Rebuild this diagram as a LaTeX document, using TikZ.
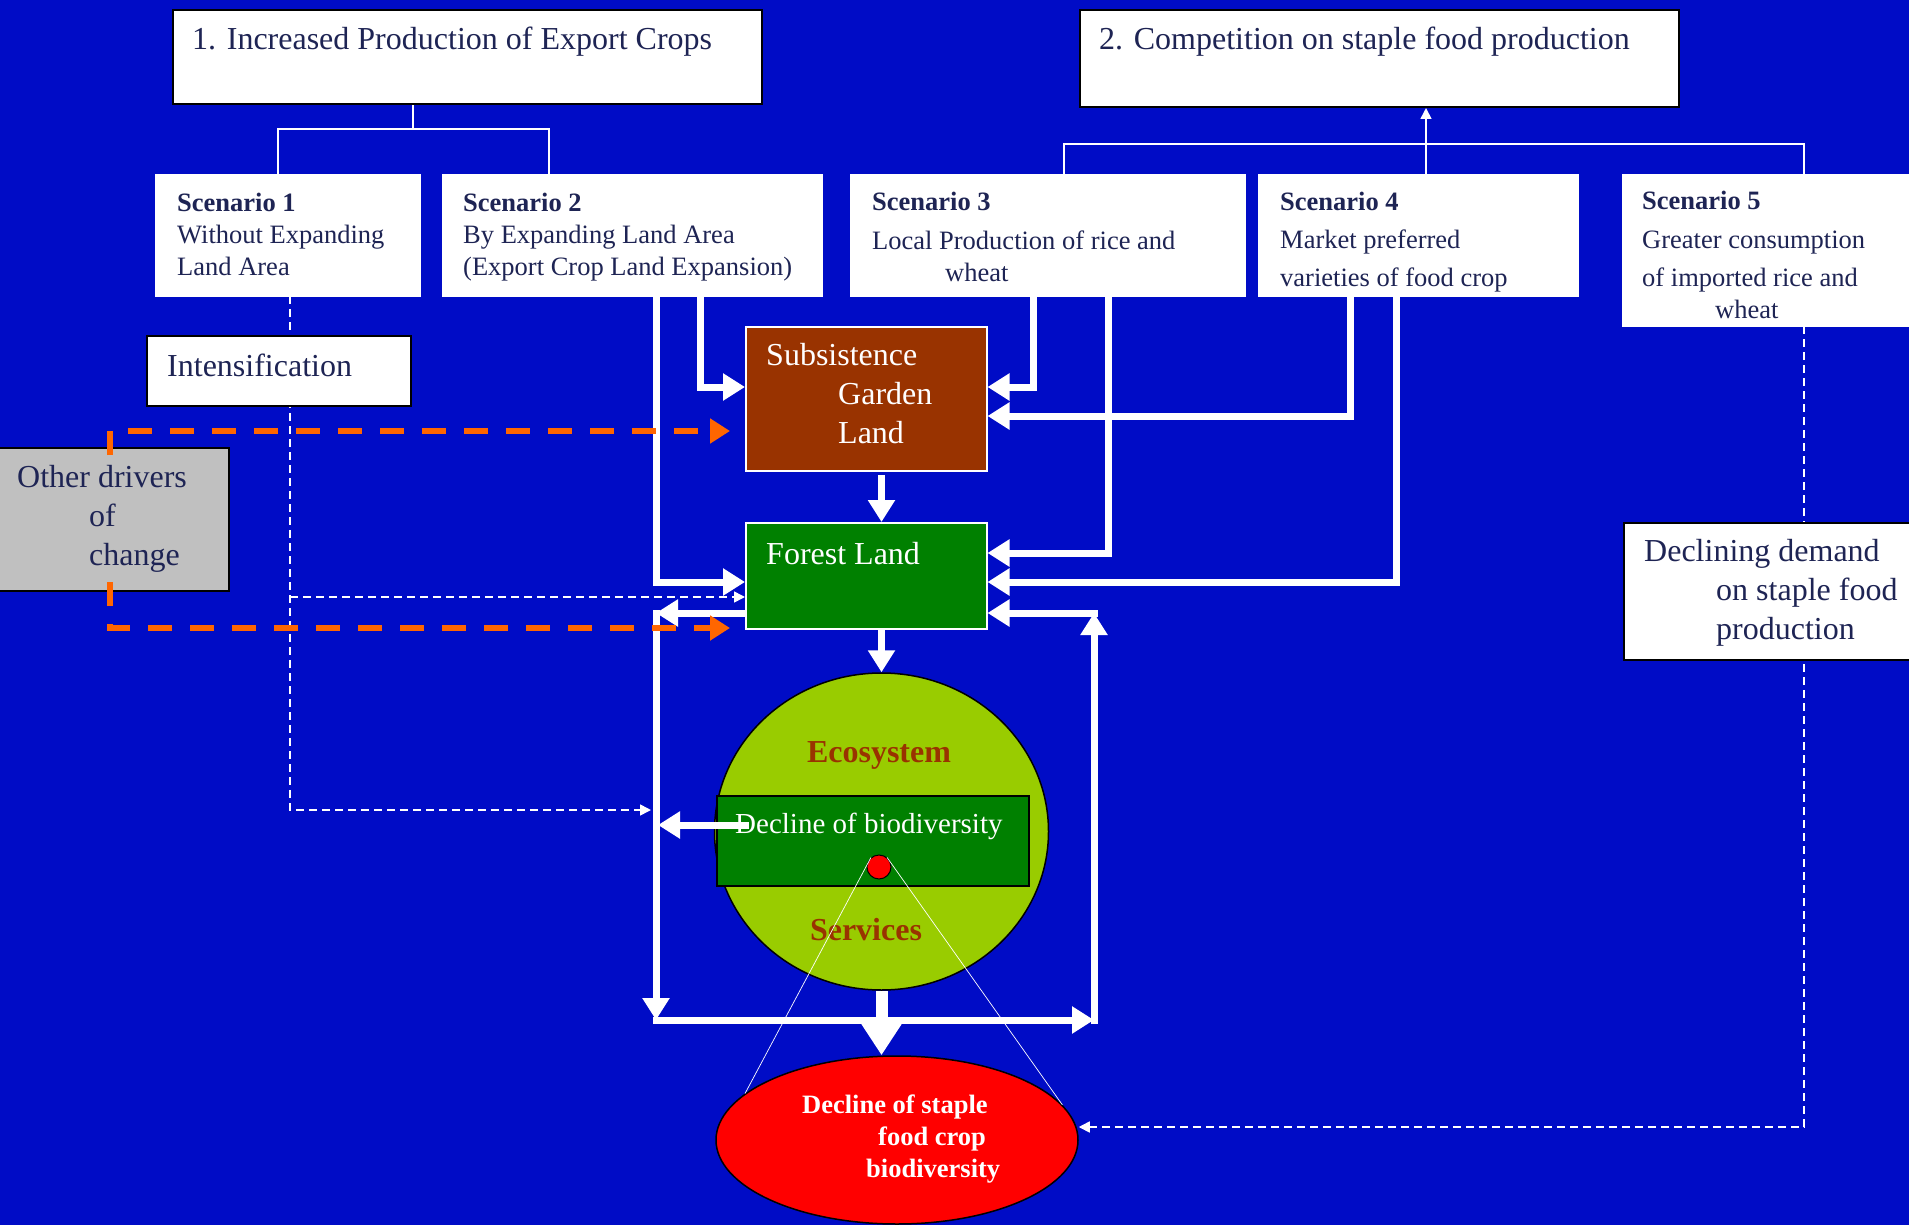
\documentclass[tikz,border=0pt]{standalone}
\usepackage{fontspec}
\setmainfont{Liberation Serif}
\usetikzlibrary{arrows.meta,shapes.geometric,positioning}

\definecolor{slideblue}{RGB}{0,12,198}
\definecolor{inkblue}{RGB}{30,36,84}
\definecolor{gardenbrown}{RGB}{153,51,0}
\definecolor{forestgreen}{RGB}{0,128,0}
\definecolor{ecolime}{RGB}{153,204,0}
\definecolor{drivergray}{RGB}{192,192,192}
\definecolor{driverorange}{RGB}{255,102,0}

\newcommand{\bigsize}{\fontsize{32}{39}\selectfont}
\newcommand{\scensize}{\fontsize{26.5}{32}\selectfont}

\pgfdeclarelayer{back}
\pgfdeclarelayer{wires}
\pgfdeclarelayer{front}
\pgfsetlayers{back,wires,main,front}

\begin{document}
\begin{tikzpicture}[x=1pt,y=-1pt,
    flow/.style={draw=white,line width=7pt,line cap=rect,-{Triangle[width=26pt,length=22pt]}},
    bigflow/.style={draw=white,line width=12pt,-{Triangle[width=44pt,length=36pt]}},
    branch/.style={draw=white,line width=1.6pt},
    hint/.style={draw=white,line width=1.6pt,dash pattern=on 8pt off 5pt,-{Triangle[width=11pt,length=11pt]}},
    driver/.style={draw=driverorange,line width=6pt,dash pattern=on 24pt off 18pt,-{Triangle[width=24pt,length=20pt]}}]
  \useasboundingbox (0,0) rectangle (1909,1225);
  \begin{pgfonlayer}{back}
    \fill[slideblue] (0,0) rectangle (1909,1225);
  \end{pgfonlayer}

  % boxes
  \begin{scope}[every node/.style={draw,inner sep=0pt,anchor=north west}]
    \node[fill=white,line width=2pt,minimum width=589pt,minimum height=94pt] (crops) at (172,9) {};
    \node[fill=white,line width=2pt,minimum width=599pt,minimum height=97pt] (staple) at (1079,9) {};
    \node[fill=white,draw=white,minimum width=265pt,minimum height=122pt] (s1) at (155,174) {};
    \node[fill=white,draw=white,minimum width=380pt,minimum height=122pt] (s2) at (442,174) {};
    \node[fill=white,draw=white,minimum width=395pt,minimum height=122pt] (s3) at (850,174) {};
    \node[fill=white,draw=white,minimum width=320pt,minimum height=122pt] (s4) at (1258,174) {};
    \node[fill=white,draw=white,minimum width=300pt,minimum height=152pt] (s5) at (1622,174) {};
    \node[fill=white,line width=2pt,minimum width=264pt,minimum height=70pt] (intens) at (146,335) {};
    \node[fill=drivergray,line width=2pt,minimum width=233pt,minimum height=143pt] (drivers) at (-5,447) {};
    \node[fill=gardenbrown,draw=white,line width=1.5pt,minimum width=241pt,minimum height=144pt] (garden) at (745,326) {};
    \node[fill=forestgreen,draw=white,line width=1.5pt,minimum width=241pt,minimum height=106pt] (forest) at (745,522) {};
    \node[fill=white,line width=2pt,minimum width=300pt,minimum height=137pt] (demand) at (1623,522) {};
    \node[ellipse,anchor=center,fill=ecolime,line width=1.5pt,minimum width=334pt,minimum height=317pt] (eco) at (881.5,831.5) {};
    \node[fill=forestgreen,line width=2pt,minimum width=312pt,minimum height=90pt] (decl) at (716,795) {};
    \node[circle,anchor=center,fill=red,line width=1pt,minimum size=24pt] (dot) at (879,867) {};
    \node[ellipse,anchor=center,fill=red,line width=1.5pt,minimum width=362pt,minimum height=168pt] (redell) at (897,1140) {};
  \end{scope}

  % texts (base = last line)
  \begin{scope}[every node/.style={anchor=base west,inner sep=0pt,align=left,text=inkblue}]
    \node[font=\bigsize] (cropstxt) at (192,50) {1. Increased Production of Export Crops};
    \node[font=\bigsize] (stapletxt) at (1099,50) {2. Competition on staple food production};
    \node[font=\scensize] (s1txt) at (177,275) {\textbf{Scenario 1}\\Without Expanding\\Land Area};
    \node[font=\scensize] (s2txt) at (463,275) {\textbf{Scenario 2}\\By Expanding Land Area\\(Export Crop Land Expansion)};
    \node[font=\scensize] (s3txt) at (872,281) {\textbf{Scenario 3}\\[7pt]Local Production of rice and\\\hspace*{73pt}wheat};
    \node[font=\scensize] (s4txt) at (1280,287) {\textbf{Scenario 4}\\[7pt]Market preferred\\[6pt]varieties of food crop};
    \node[font=\scensize] (s5txt) at (1642,318) {\textbf{Scenario 5}\\[7pt]Greater consumption\\[6pt]of imported rice and\\\hspace*{73pt}wheat};
    \node[font=\bigsize] (intenstxt) at (167,376) {Intensification};
    \node[font=\bigsize] (driverstxt) at (17,565) {Other drivers\\\hspace*{72pt}of\\\hspace*{72pt}change};
    \node[font=\bigsize] (demandtxt) at (1644,639) {Declining demand\\\hspace*{72pt}on staple food\\\hspace*{72pt}production};
    \node[font=\bigsize,text=white] (gardentxt) at (766,443) {Subsistence\\\hspace*{72pt}Garden\\\hspace*{72pt}Land};
    \node[font=\bigsize,text=white] (foresttxt) at (766,564) {Forest Land};
    \node[font=\fontsize{29}{35}\selectfont,text=white] (decltxt) at (735,833) {Decline of biodiversity};
    \node[font=\fontsize{32}{39}\selectfont\bfseries,text=gardenbrown,anchor=base] (ecotxt) at (879,762) {Ecosystem};
    \node[font=\fontsize{32}{39}\selectfont\bfseries,text=gardenbrown,anchor=base] (servtxt) at (866,940) {Services};
    \node[font=\scensize\bfseries,text=white] (redtxt) at (802,1177) {Decline of staple\\\hspace*{76pt}food crop\\\hspace*{64pt}biodiversity};
  \end{scope}

  \coordinate (lefttop) at (656,613);
  \coordinate (leftbot) at (656,1020);
  \coordinate (rightbot) at (1094,1020);
  \coordinate (righttop) at (1094,613);

  \begin{pgfonlayer}{wires}
    % tree lines
    \draw[branch] (413,0 |- crops.south) -- (413,129);
    \draw[branch] (278,0 |- s1.north) |- (549,129) -- (549,0 |- s2.north);
    \draw[branch] (1064,0 |- s3.north) |- (1804,144) -- (1804,0 |- s5.north);
    \draw[branch,-{Triangle[width=11pt,length=11pt]}] (1426,0 |- s4.north) -- (1426,0 |- staple.south);
    % dashed hints
    \draw[hint,shorten >=5pt] (290,0 |- s1.south) |- (lefttop |- 0,810);
    \draw[hint] (290,597) -- (forest.west |- 0,597);
    \draw[hint] (1804,0 |- s5.south) |- (redell.east |- 0,1127);
    % thick flows
    \draw[flow] (700,0 |- s2.south) |- (garden.west |- 0,387);
    \draw[flow] (656,0 |- s2.south) |- (forest.west |- 0,582);
    \draw[flow] (1033,0 |- s3.south) |- (garden.east |- 0,387);
    \draw[flow] (1108,0 |- s3.south) |- (forest.east |- 0,553);
    \draw[flow] (1350,0 |- s4.south) |- (garden.east |- 0,416);
    \draw[flow] (1396,0 |- s4.south) |- (forest.east |- 0,582);
    \draw[flow,shorten <=7pt] (eco.north |- garden.south) -- (eco.north |- forest.north);
    \draw[flow] (eco.north |- forest.south) -- (eco.north);
    \draw[flow] (forest.west |- lefttop) -- (lefttop);
    \draw[flow] (lefttop) -- (leftbot);
    \draw[flow] (leftbot) -- (rightbot);
    \draw[flow] (rightbot) -- (righttop);
    \draw[flow] (righttop) -- (forest.east |- righttop);
    \draw[bigflow] (eco.south) -- (eco.south |- redell.north);
  \end{pgfonlayer}

  \begin{pgfonlayer}{front}
    \draw[flow,shorten >=2pt] (745,825) -- (lefttop |- 0,825);
    \draw[white,line width=0.7pt] (dot.130) -- (redell.163) (dot.50) -- (redell.12);
    \draw[driver,shorten >=15pt] (110,455) |- (garden.west |- 0,431);
    \draw[driver,shorten >=15pt] (110,582) |- (forest.west |- 0,628);
  \end{pgfonlayer}
\end{tikzpicture}
\end{document}
